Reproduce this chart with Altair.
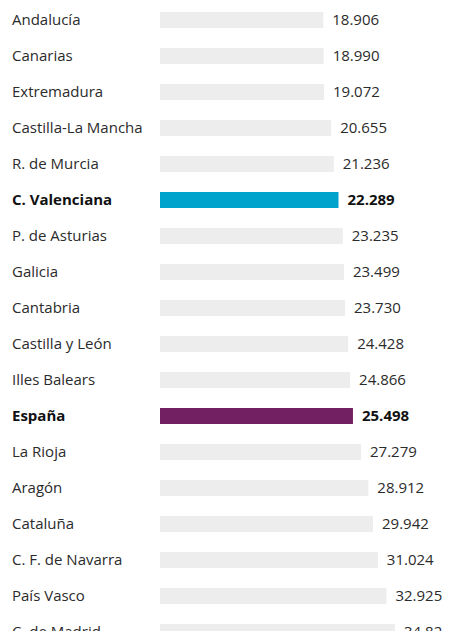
import altair as alt
import pandas as pd

regions = ["Andalucía", "Canarias", "Extremadura", "Castilla-La Mancha", "R. de Murcia",
           "C. Valenciana", "P. de Asturias", "Galicia", "Cantabria", "Castilla y León",
           "Illes Balears", "España", "La Rioja", "Aragón", "Cataluña",
           "C. F. de Navarra", "País Vasco", "C. de Madrid"]
values = [18906, 18990, 19072, 20655, 21236, 22289, 23235, 23499, 23730, 24428,
          24866, 25498, 27279, 28912, 29942, 31024, 32925, 34821]
highlight = {"C. Valenciana": "valencia", "España": "espana"}

df = pd.DataFrame({"region": regions, "value": values})
df["rank"] = list(range(len(regions)))
df["group"] = [highlight.get(r, "other") for r in regions]
df["bold"] = [r in highlight for r in regions]
df["label"] = [f"{v:,}".replace(",", ".") for v in values]

FONT = "Open Sans"
BASE = -17336

y = alt.Y("rank:Q", axis=None,
          scale=alt.Scale(domain=[-1 / 3, 611 / 36], reverse=True, zero=False,
                          nice=False, padding=0))
xscale = alt.Scale(domain=[-51077, 45261], zero=False, nice=False, padding=0)

bars = alt.Chart(df).mark_bar(size=16, orient="horizontal").encode(
    y=y,
    x=alt.X("value:Q", scale=xscale, axis=None),
    x2=alt.X2(datum=BASE),
    color=alt.Color("group:N", legend=None,
                    scale=alt.Scale(domain=["other", "valencia", "espana"],
                                    range=["#ecedec", "#00a3cc", "#722062"])),
)

names_reg = alt.Chart(df).transform_filter("!datum.bold").mark_text(
    align="left", baseline="middle", font=FONT, fontSize=15, color="#2b2b2b"
).encode(y=y, x=alt.value(4), text="region:N")

names_bold = alt.Chart(df).transform_filter("datum.bold").mark_text(
    align="left", baseline="middle", font=FONT, fontSize=15, fontWeight="bold", color="#111111"
).encode(y=y, x=alt.value(4), text="region:N")

vals_reg = alt.Chart(df).transform_filter("!datum.bold").mark_text(
    align="left", baseline="middle", dx=9, font=FONT, fontSize=15, color="#2b2b2b"
).encode(y=y, x=alt.X("value:Q", scale=xscale, axis=None), text="label:N")

vals_bold = alt.Chart(df).transform_filter("datum.bold").mark_text(
    align="left", baseline="middle", dx=9, font=FONT, fontSize=15, fontWeight="bold", color="#111111"
).encode(y=y, x=alt.X("value:Q", scale=xscale, axis=None), text="label:N")

chart = alt.layer(bars, names_reg, names_bold, vals_reg, vals_bold).properties(
    width=434, height=623, padding=0, background="white",
    autosize=alt.AutoSizeParams(type="none")
).configure_view(stroke=None)

chart.save("out.html", embed_options={"renderer": "svg", "actions": False})
